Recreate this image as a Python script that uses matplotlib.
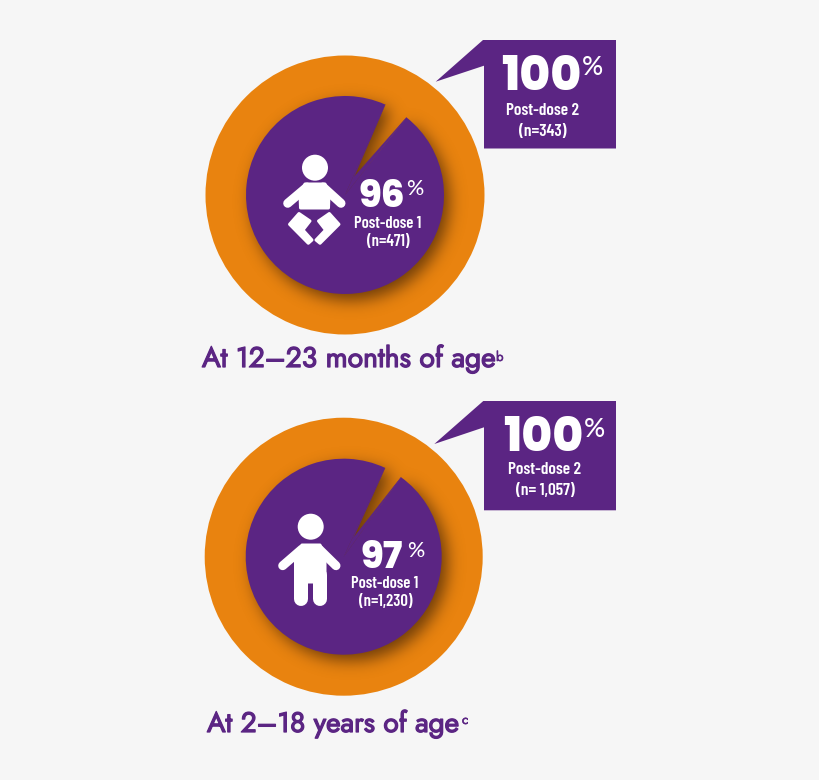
#!/bin/env python3

import numpy as np
import matplotlib
matplotlib.use('Agg')
import matplotlib.pyplot as plt
import matplotlib.patheffects as pe
from matplotlib.patches import Circle, Polygon
from matplotlib.path import Path

ORANGE = '#E9830F'
PURPLE = '#5B2583'
BG = '#F6F6F6'
HEIGHT = 780

HEAVY = ['Poppins', 'Lato']
NARROW = ['Barlow Condensed', 'Liberation Sans Narrow', 'Lato']
TITLE = ['Jost', 'Lato']

# values
post_dose_1 = [96, 97]
post_dose_2 = [100, 100]
dose_1_labels = ['Post-dose 1', 'Post-dose 1']
dose_2_labels = ['Post-dose 2', 'Post-dose 2']
dose_1_counts = ['(n=471)', '(n=1,230)']
dose_2_counts = ['(n=343)', '(n= 1,057)']
age_titles = ['At 12\u201323 months of age', 'At 2\u201318 years of age']
age_notes = ['b', 'c']


def py(y):
    # picture pixels count from the top, the axes from the bottom
    return HEIGHT - y


def pts(px):
    return px * 72 / 100


fig = plt.figure(figsize=(8.2, 7.8), dpi=100, facecolor=BG)
ax = fig.add_axes([0, 0, 1, 1])


def label(x, y, s, size, family=NARROW, weight=600, ha='center'):
    return ax.text(x, py(y), s, fontsize=size, family=family, weight=weight, color='white',
                   ha=ha, va='baseline', zorder=8)


def big_number(x, y, s, size):
    label(x, y, s, size, family=HEAVY, weight=800)


def percent(x, y, size):
    label(x, y, '%', size, family=['Lato'], weight='medium', ha='left')


def title(x, y, s, size, note, note_x, note_y):
    # Jost only comes in one weight here, a thin stroke brings it up to medium
    ax.text(x, py(y), s, fontsize=size, family=TITLE, color=PURPLE, ha='left', va='baseline',
            zorder=8, path_effects=[pe.withStroke(linewidth=0.9, foreground=PURPLE)])
    ax.text(note_x, py(note_y), note, fontsize=9.5, family=TITLE, color=PURPLE, ha='left', va='baseline',
            zorder=8, path_effects=[pe.withStroke(linewidth=0.4, foreground=PURPLE)])


def blur(img, sigma):
    r = int(3 * sigma)
    kernel = np.exp(-0.5 * (np.arange(-r, r + 1) / sigma) ** 2)
    kernel /= kernel.sum()
    img = np.apply_along_axis(lambda m: np.convolve(m, kernel, mode='same'), 0, img)
    return np.apply_along_axis(lambda m: np.convolve(m, kernel, mode='same'), 1, img)


def draw_ring(value, cx, cy, R, r, start, apex):
    # cx, cy in picture pixels; start is the angle where the purple slice begins
    c = (cx, py(cy))
    ax.pie([100], colors=[ORANGE], center=c, radius=R, startangle=90, frame=False)
    outer = Circle(c, R, transform=ax.transData)

    end = start + 360 * value / 100
    a = np.radians(np.linspace(end, start + 360, 30))
    rim = np.column_stack([c[0] + r * np.cos(a), c[1] + r * np.sin(a)])
    tip = (apex[0], py(apex[1]))
    gap = np.vstack([[tip], rim])

    # soft shadow of the purple shape, moved down and to the right
    xs = np.arange(c[0] - R, c[0] + R + 1)
    ys = np.arange(c[1] - R, c[1] + R + 1)
    gx, gy = np.meshgrid(xs, ys)
    grid = np.column_stack([gx.ravel(), gy.ravel()])
    mask = ((gx - c[0] - 6) ** 2 + (gy - c[1] + 6) ** 2 <= r ** 2).astype(float)
    moved = Path(gap + [6, -6]).contains_points(grid).reshape(gx.shape)
    mask[moved] = 0
    alpha = blur(mask, 8) * 0.72
    rgba = np.zeros(gx.shape + (4,))
    rgba[..., :3] = [0.24, 0.13, 0.03]
    rgba[..., 3] = alpha
    im = ax.imshow(rgba, extent=(xs[0], xs[-1], ys[0], ys[-1]), origin='lower',
                   zorder=3, interpolation='bilinear')
    im.set_clip_path(outer)

    ax.pie([value, 100 - value], colors=[PURPLE, 'none'], center=c, radius=r,
           startangle=start, counterclock=True, frame=False, wedgeprops={'zorder': 4})
    # the notch tip sits off centre, so fill the slice between centre and tip
    cover = np.vstack([[c], rim[-1], [tip], rim[0]])
    ax.add_patch(Polygon(cover, closed=True, fc=PURPLE, ec=PURPLE, lw=0.3, zorder=4))


def draw_callout(points):
    ax.add_patch(Polygon([(x, py(y)) for x, y in points], closed=True, fc=PURPLE, ec='none', zorder=5))


def white_shape(points, edge=3):
    ax.add_patch(Polygon([(x, py(y)) for x, y in points], closed=True, fc='white', ec='white',
                         lw=pts(edge), joinstyle='round', zorder=6))


def white_line(x0, y0, x1, y1, width):
    ax.plot([x0, x1], [py(y0), py(y1)], color='white', lw=pts(width),
            solid_capstyle='round', zorder=6)


def draw_baby():
    ax.add_patch(Circle((315, py(167.7)), 13, fc='white', ec='none', zorder=6))
    white_line(307, 187, 287.7, 203.3, 9)
    white_line(323, 187, 341, 203.3, 9)
    white_shape([(305, 184), (325, 184), (329, 194), (328.5, 208), (300.5, 208), (300, 194)])
    white_shape([(299, 213.5), (289.5, 224.3), (308.3, 243.3), (312, 240), (303, 230), (310, 221)])
    white_shape([(329.3, 213.5), (339, 224.3), (320, 243.3), (316, 240), (325.5, 230), (318.5, 221)])


def draw_child():
    ax.add_patch(Circle((310.7, py(526.7)), 13, fc='white', ec='none', zorder=6))
    white_line(302, 549, 282.7, 565.7, 9)
    white_line(319, 549, 336, 565.7, 9)
    white_shape([(302, 545), (320, 545), (325, 556), (325, 582), (295.5, 582), (295.5, 556)])
    white_line(300.8, 575, 300.8, 599, 14)
    white_line(319.8, 575, 319.8, 599, 14)


# top panel
draw_ring(post_dose_1[0], 345, 195, 139.5, 99, 66, (354, 177))
draw_callout([(483, 40), (616, 40), (616, 148.5), (484, 148.5), (484, 65.7), (435.7, 81.7)])
draw_baby()
big_number(382, 207, f'{post_dose_1[0]}', 27)
percent(406, 195, 15.5)
label(388, 228, dose_1_labels[0], 12)
label(388, 246, dose_1_counts[0], 12)
big_number(541, 90, f'{post_dose_2[0]}', 34)
percent(582, 75, 19)
label(543, 115, dose_2_labels[0], 12.5)
label(543, 136, dose_2_counts[0], 12.5)
title(202, 367, age_titles[0], 20.35, age_notes[0], 496, 361)

# bottom panel
draw_ring(post_dose_1[1], 343.7, 556.7, 139, 98, 65, (353.3, 538))
draw_callout([(483.3, 401), (616, 401), (616, 510.3), (484, 510.3), (484, 427.3), (434.3, 444)])
draw_child()
big_number(382, 568, f'{post_dose_1[1]}', 27)
percent(407, 557, 15.5)
label(385, 588, dose_1_labels[1], 12)
label(385.5, 606, dose_1_counts[1], 12)
big_number(543, 451, f'{post_dose_2[1]}', 34)
percent(584, 437, 19)
label(545, 474, dose_2_labels[1], 12.5)
label(545, 495, dose_2_counts[1], 12.5)
title(207, 732, age_titles[1], 20.2, age_notes[1], 462, 724)

ax.set_xlim(0, 820)
ax.set_ylim(0, HEIGHT)
ax.set_aspect('equal')
ax.axis('off')

fig.savefig('out.png', dpi=100, facecolor=BG)
